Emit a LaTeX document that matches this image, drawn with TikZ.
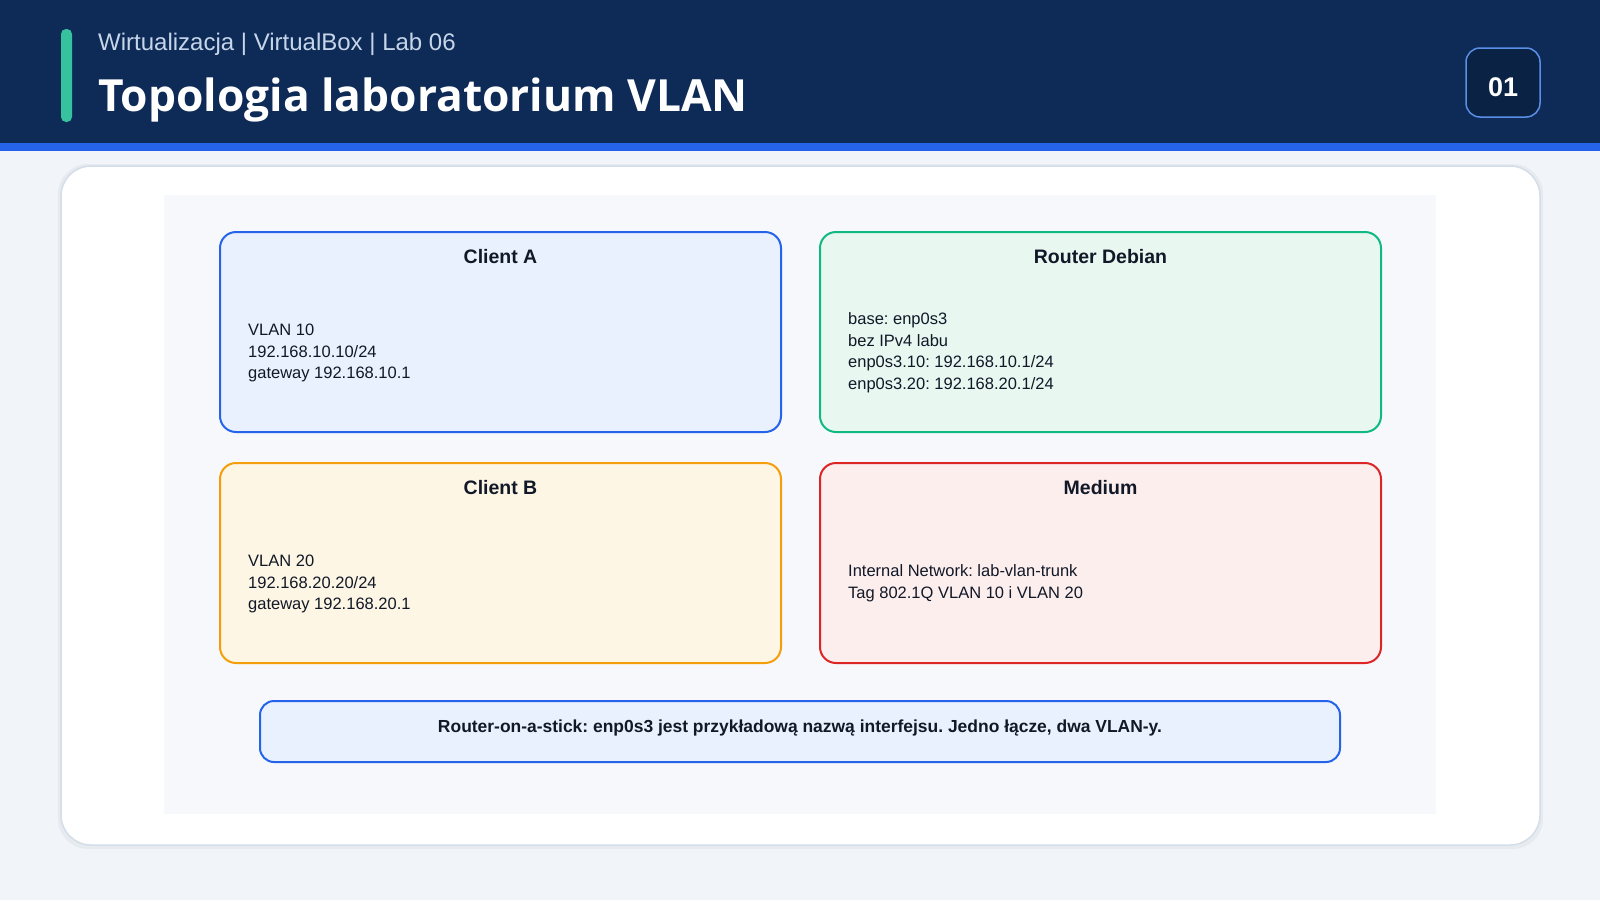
\documentclass[tikz,border=0pt]{standalone}
\usepackage{fontspec}
\setmainfont{Liberation Sans}
\newfontfamily\headfont{Open Sans}
\frenchspacing
\definecolor{pagebg}{HTML}{F1F5FA}
\definecolor{headerbg}{HTML}{0D2B56}
\definecolor{stripe}{HTML}{2563EB}
\definecolor{tealbar}{HTML}{36C29E}
\definecolor{subcol}{HTML}{C7D5EA}
\definecolor{badgefill}{HTML}{0A2244}
\definecolor{badgeline}{HTML}{5A8FE8}
\definecolor{panelline}{HTML}{D3DEEB}
\definecolor{innerbg}{HTML}{F6F8FC}
\definecolor{inktext}{HTML}{111827}
\definecolor{blueline}{HTML}{2563EB}
\definecolor{bluefill}{HTML}{EAF1FE}
\definecolor{greenline}{HTML}{10B981}
\definecolor{greenfill}{HTML}{E8F8F1}
\definecolor{orangeline}{HTML}{F59E0B}
\definecolor{orangefill}{HTML}{FEF6E4}
\definecolor{redline}{HTML}{DC2626}
\definecolor{redfill}{HTML}{FDEEEE}
\tikzset{
  card/.style={draw, line width=2pt, rounded corners=16pt, minimum width=561pt, minimum height=200pt, inner sep=0pt},
  cardtitle/.style={text=inktext, font=\fontsize{19.5}{23}\selectfont\bfseries, inner sep=0pt},
  cardbody/.style={text=inktext, font=\fontsize{16.5}{21.5}\selectfont, align=left, anchor=west, inner sep=0pt},
}
\begin{document}
\begin{tikzpicture}[x=1pt,y=-1pt]
\useasboundingbox (0,0) rectangle (1600,900);
\fill[pagebg] (0,0) rectangle (1600,900);
% header
\fill[headerbg] (0,0) rectangle (1600,143);
\fill[stripe] (0,143) rectangle (1600,151);
\fill[tealbar, rounded corners=5pt] (61,29) rectangle (72,122);
\node[anchor=west, text=subcol, font=\fontsize{24}{28}\selectfont, inner sep=0pt] (sub) at (98,44) {Wirtualizacja | VirtualBox | Lab 06};
\node[anchor=west, text=white, font=\headfont\fontsize{44.3}{52}\selectfont\bfseries, inner sep=0pt] (title) at (98,100) {Topologia laboratorium VLAN};
\node[draw=badgeline, fill=badgefill, line width=1.5pt, rounded corners=14pt, minimum width=74pt, minimum height=69pt, inner sep=0pt] (badge) at (1503,82.5) {};
\node[text=white, font=\fontsize{27}{30}\selectfont\bfseries, inner sep=0pt] (badget) at (1503,87.5) {01};
% panel
\fill[black, opacity=0.04, rounded corners=30pt] (58,164) rectangle (1543,849);
\draw[panelline, fill=white, line width=1.5pt, rounded corners=30pt] (61,166) rectangle (1540,845);
\fill[innerbg] (164,195) rectangle (1436,814);
% cards
\node[card, draw=blueline, fill=bluefill] (ca) at (500.5,332) {};
\node[card, draw=greenline, fill=greenfill] (rd) at (1100.5,332) {};
\node[card, draw=orangeline, fill=orangefill] (cb) at (500.5,563) {};
\node[card, draw=redline, fill=redfill] (md) at (1100.5,563) {};
\node[cardtitle] (cat) at (500.5,257) {Client A};
\node[cardtitle] (rdt) at (1100.5,257) {Router Debian};
\node[cardtitle] (cbt) at (500.5,488) {Client B};
\node[cardtitle] (mdt) at (1100.5,488) {Medium};
\node[cardbody] (cab) at (248,353) {VLAN 10\\192.168.10.10/24\\gateway 192.168.10.1};
\node[cardbody] (rdb) at (848,352.5) {base: enp0s3\\bez IPv4 labu\\enp0s3.10: 192.168.10.1/24\\enp0s3.20: 192.168.20.1/24};
\node[cardbody] (cbb) at (248,584) {VLAN 20\\192.168.20.20/24\\gateway 192.168.20.1};
\node[cardbody] (mdb) at (848,583) {Internal Network: lab-vlan-trunk\\Tag 802.1Q VLAN 10 i VLAN 20};
% note
\node[draw=blueline, fill=bluefill, line width=2pt, rounded corners=14pt, minimum width=1080pt, minimum height=61pt, inner sep=0pt] (note) at (800,731.5) {};
\node[text=inktext, font=\fontsize{17.45}{20}\selectfont\bfseries, inner sep=0pt] (notet) at (800,728) {Router-on-a-stick: enp0s3 jest przykładową nazwą interfejsu. Jedno łącze, dwa VLAN-y.};
\end{tikzpicture}
\end{document}
